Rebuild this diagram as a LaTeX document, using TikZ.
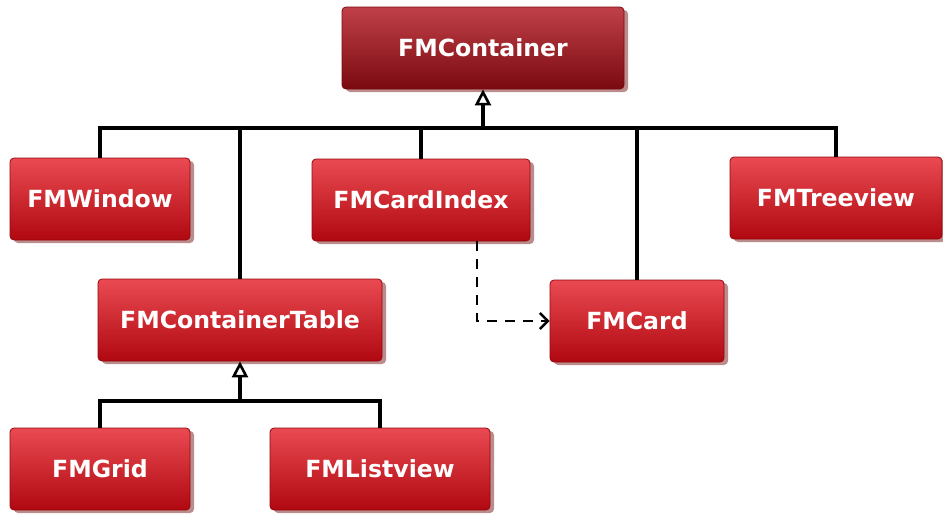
\documentclass[tikz,border=0pt]{standalone}
\usepackage{fontspec}
\setmainfont{DejaVu Sans}
\usetikzlibrary{arrows.meta,shadows,calc}

\definecolor{boxtop}{HTML}{EA4A52}
\definecolor{boxmid}{HTML}{E6101A}
\definecolor{boxbot}{HTML}{B00810}
\definecolor{roottop}{HTML}{C04048}
\definecolor{rootmid}{HTML}{A6161E}
\definecolor{rootbot}{HTML}{7A0A10}

\begin{document}
\begin{tikzpicture}[
x=0.5pt,y=-0.5pt,
classbox/.style={
	rectangle,
	rounded corners=2pt,
	top color=boxtop,
	middle color=boxmid,
	bottom color=boxbot,
	draw=boxbot!85!black,
	drop shadow={fill=red!40!black,opacity=0.45,shadow xshift=2pt,shadow yshift=-1.5pt},
	text=white,
	font=\fontsize{11.8}{13}\selectfont\bfseries,
	minimum height=41pt,
	inner sep=2pt
},
rootbox/.style={
	classbox,
	top color=roottop,
	middle color=rootmid,
	bottom color=rootbot,
	draw=rootbot
},
link/.style={
	line width=2pt
},
inherit/.style={
	link,
	-{Triangle[open,length=8pt,width=8pt,line width=1.3pt]}
},
uses/.style={
	line width=1.4pt,
	dash pattern=on 5pt off 4pt,
	-{Straight Barb[length=4pt,width=8pt,line width=1.2pt]}
}
]
\useasboundingbox[fill=white] (0,0) rectangle (943,514);

% classes
\node[rootbox,minimum width=141pt] (container) at (483,48) {FMContainer};

\node[classbox,minimum width=90pt] (window) at (100,199) {FMWindow};
\node[classbox,minimum width=109pt] (cardindex) at (421,200) {FMCardIndex};
\node[classbox,minimum width=106pt] (treeview) at (836,198) {FMTreeview};

\node[classbox,minimum width=142pt] (table) at (240,320) {FMContainerTable};
\node[classbox,minimum width=87pt] (card) at (637,321) {FMCard};

\node[classbox,minimum width=90pt] (grid) at (100,469) {FMGrid};
\node[classbox,minimum width=110pt] (listview) at (380,469) {FMListview};

% inheritance from FMContainer
\coordinate (bus) at (483,128);
\draw[link] (window.north) -- (window.north |- bus) -- (treeview.north |- bus) -- (treeview.north);
\draw[link] (table.north) -- (table.north |- bus);
\draw[link] (cardindex.north) -- (cardindex.north |- bus);
\draw[link] (card.north) -- (card.north |- bus);
\draw[inherit] (bus) -- (container.south);

% inheritance from FMContainerTable
\coordinate (bus2) at (240,401);
\draw[link] (grid.north) -- (grid.north |- bus2) -- (listview.north |- bus2) -- (listview.north);
\draw[inherit] (bus2) -- (table.south);

% dependency
\draw[uses] ([xshift=28pt]cardindex.south) |- (card.west);
\end{tikzpicture}
\end{document}
